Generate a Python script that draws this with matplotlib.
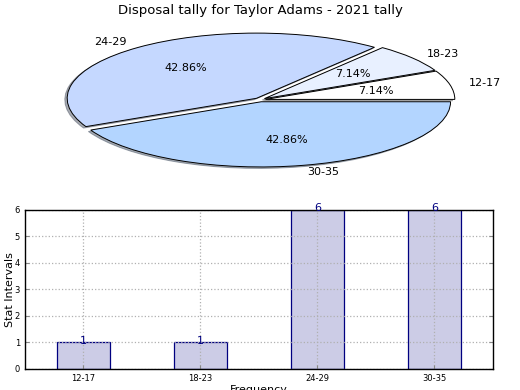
import matplotlib
matplotlib.use("Agg")
import matplotlib.pyplot as plt

categories = ["12-17", "18-23", "24-29", "30-35"]
counts = [1, 1, 6, 6]
pie_colors = ["#ffffff", "#e8f0ff", "#c5d8ff", "#b3d5ff"]
title = "Disposal tally for Taylor Adams - 2021 tally"

fig = plt.figure(figsize=(5.2, 3.9), dpi=100)
fig.patch.set_facecolor("white")

# Pie (squashed ellipse)
axp = fig.add_axes([0.045, 0.535, 0.91, 0.418])
wedges, texts, autotexts = axp.pie(
    counts, labels=categories, colors=pie_colors, autopct="%.2f%%",
    explode=[0.03] * len(counts),
    shadow=dict(ox=-0.009, oy=-0.016, shade=0.6),
    startangle=0,
    wedgeprops=dict(edgecolor="black", linewidth=0.7),
    textprops=dict(fontsize=8))
axp.set_aspect("auto")
axp.set_xlim(-1.25, 1.25)
axp.set_ylim(-1.25, 1.25)
fig.text(0.5, 0.972, title, ha="center", va="center", fontsize=9.5)

# Bars
axb = fig.add_axes([0.048, 0.054, 0.9, 0.408])
x = list(range(len(categories)))
bars = axb.bar(x, counts, width=0.45, color="#ccccE6", edgecolor="#000080",
               linewidth=0.9, zorder=1)
for xi, v in zip(x, counts):
    axb.annotate(str(v), (xi, v), xytext=(0, -2.5), textcoords="offset points",
                 ha="center", va="bottom", color="#000080", fontsize=8,
                 zorder=6, annotation_clip=False)
axb.set_xlim(-0.5, 3.5)
axb.set_ylim(0, 6)
axb.set_xticks(x)
axb.set_xticklabels(categories)
axb.set_yticks(range(0, 7))
axb.tick_params(labelsize=6, direction="in", length=3, right=True, top=False,
                color="#888888")
axb.grid(True, linestyle=":", color="#b0b0b0", linewidth=0.9)
axb.set_axisbelow(False)
for s in axb.spines.values():
    s.set_zorder(5)
    s.set_linewidth(1.0)
axb.set_ylabel("Stat Intervals", fontsize=8)
axb.yaxis.set_label_coords(-0.022, 0.5)
axb.set_xlabel("Frequency", fontsize=8, labelpad=1.5)

fig.savefig("out.png", dpi=100)
